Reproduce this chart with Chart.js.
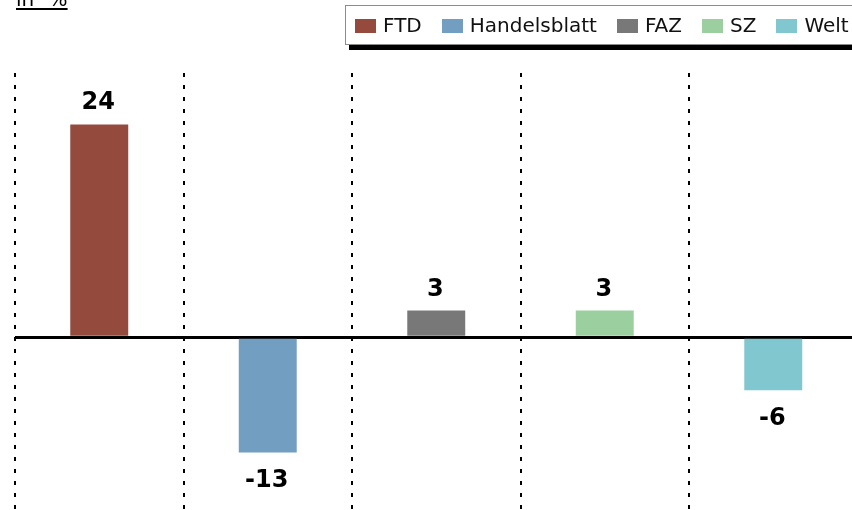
<!DOCTYPE html>
<html>
<head>
<meta charset="utf-8">
<script src="https://cdn.jsdelivr.net/npm/chart.js@4/dist/chart.umd.min.js"></script>
<style>
  html, body { margin: 0; padding: 0; background: #fff; }
  #wrap { position: relative; width: 852px; height: 510px; overflow: hidden; }
  #c { position: absolute; left: 0; top: 0; }
  #title { position: absolute; left: 16px; top: -11px; font: 20px "DejaVu Sans", sans-serif; line-height: 20px;
           text-decoration: underline; text-decoration-thickness: 2px; text-underline-offset: 2px; word-spacing: 8px; color: #000; white-space: nowrap; }
  #legend { position: absolute; left: 345px; top: 5px; width: 600px; height: 40px; border: 1px solid #8c8c8c; background: #fff;
            box-shadow: 4px 5px 0 #000; display: flex; align-items: center; padding-left: 9px; box-sizing: border-box;
            font: 20px "DejaVu Sans", sans-serif; color: #111; white-space: nowrap; }
  .item { display: flex; align-items: center; margin-right: 20px; }
  .sw { width: 21px; height: 14px; margin-right: 7px; margin-top: 1px; }
</style>
</head>
<body>
<div id="wrap">
  <canvas id="c" width="860" height="510"></canvas>
  <div id="title">in %</div>
  <div id="legend"></div>
</div>
<script>
const categories = ["FTD", "Handelsblatt", "FAZ", "SZ", "Welt"];
const values = [24, -13, 3, 3, -6];
const colors = ["#954a3e", "#729fc1", "#787878", "#9ccfa0", "#80c7d0"];

const legend = document.getElementById('legend');
categories.forEach((c, i) => {
  const it = document.createElement('div');
  it.className = 'item';
  const sw = document.createElement('div');
  sw.className = 'sw';
  sw.style.background = colors[i];
  const tx = document.createElement('span');
  tx.textContent = c;
  it.appendChild(sw); it.appendChild(tx);
  legend.appendChild(it);
});

const labelPlugin = {
  id: 'valueLabels',
  afterDatasetsDraw(chart) {
    const ctx = chart.ctx;
    const meta = chart.getDatasetMeta(0);
    ctx.save();
    ctx.font = 'bold 24px "DejaVu Sans", sans-serif';
    ctx.fillStyle = '#000';
    ctx.textAlign = 'center';
    ctx.textBaseline = 'alphabetic';
    meta.data.forEach((bar, i) => {
      const v = values[i];
      const y = v >= 0 ? bar.y - 15 : bar.y + 35;
      ctx.fillText(String(v), bar.x - 1, y);
    });
    ctx.restore();
  }
};

new Chart(document.getElementById('c'), {
  type: 'bar',
  data: {
    labels: categories,
    datasets: [{
      label: 'in %',
      data: values,
      backgroundColor: colors,
      borderWidth: 0,
      barPercentage: 0.344,
      categoryPercentage: 1.0
    }]
  },
  options: {
    responsive: false,
    animation: false,
    devicePixelRatio: 1,
    layout: { padding: { left: 15, right: 2.5, top: 73, bottom: 0 } },
    plugins: { legend: { display: false }, tooltip: { enabled: false } },
    scales: {
      x: {
        ticks: { display: false },
        grid: { display: true, color: '#000', lineWidth: 2, drawTicks: false, offset: true },
        border: { display: false, dash: [4, 8] }
      },
      y: {
        min: -19.5,
        max: 29.8,
        ticks: { display: false },
        afterBuildTicks: (scale) => { scale.ticks = [{ value: 0 }]; },
        grid: { color: '#000', lineWidth: 3, drawTicks: false },
        border: { display: false }
      }
    }
  },
  plugins: [labelPlugin]
});
</script>
</body>
</html>
